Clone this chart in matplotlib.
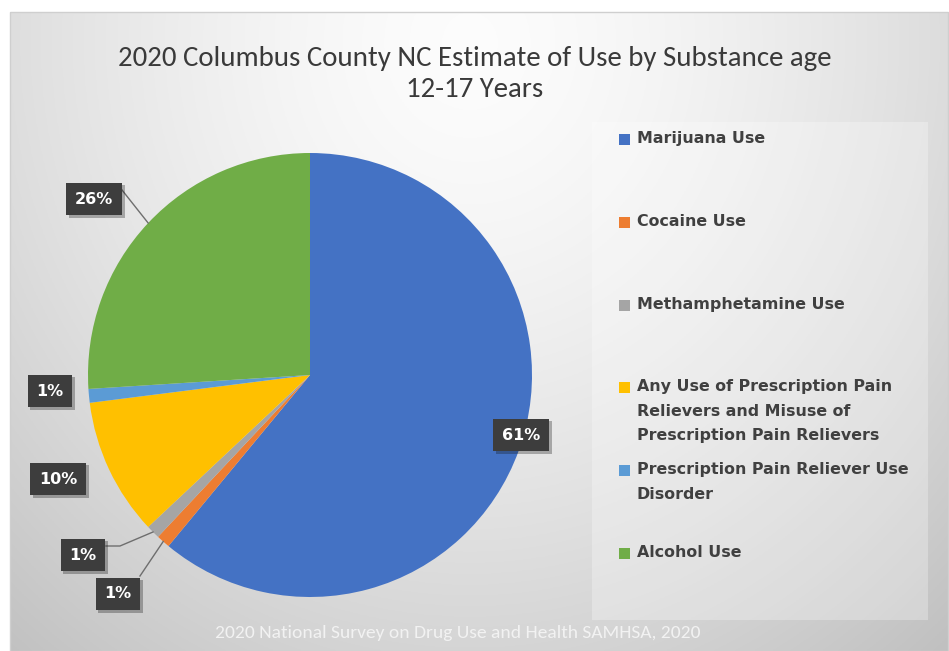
import numpy as np
import matplotlib
matplotlib.use("Agg")
import matplotlib.pyplot as plt
from matplotlib.patches import Rectangle
from matplotlib import patheffects

# ---- data ----
categories = [
    "Marijuana Use",
    "Cocaine Use",
    "Methamphetamine Use",
    "Any Use of Prescription Pain\nRelievers and Misuse of\nPrescription Pain Relievers",
    "Prescription Pain Reliever Use\nDisorder",
    "Alcohol Use",
]
shares = [61, 1, 1, 10, 1, 26]
colors = ["#4472C4", "#ED7D31", "#A5A5A5", "#FFC000", "#5B9BD5", "#70AD47"]

title = "2020 Columbus County NC Estimate of Use by Substance age\n12-17 Years"
source = "2020 National Survey on Drug Use and Health SAMHSA, 2020"

W, H = 949, 651
fig = plt.figure(figsize=(W / 100, H / 100), dpi=100)
fig.patch.set_facecolor("white")

# ---- chart area background: soft radial grey gradient ----
x0, y0 = 10, 12  # chart area top-left in pixels
bg = fig.add_axes([x0 / W, 0, (W - x0) / W, (H - y0) / H])
gx = np.linspace(0, W - x0, 400)
gy = np.linspace(0, H - y0, 300)
GX, GY = np.meshgrid(gx, gy)
d = np.sqrt(((GX - 460) / 650) ** 2 + ((GY - 30) / 720) ** 2)
shade = np.clip(0.99 - 0.2 * d ** 1.5, 0.75, 1.0)
bg.imshow(np.dstack([shade] * 3), extent=[0, 1, 0, 1], aspect="auto", origin="upper")
bg.set_axis_off()

# ---- main drawing axes in pixel units (y measured upward) ----
ax = fig.add_axes([0, 0, 1, 1])
ax.set_facecolor("none")
ax.patch.set_alpha(0)

cx, cy, r = 310, H - 375, 222
wedges, _ = ax.pie(shares, colors=colors, startangle=90, counterclock=False,
                   center=(cx, cy), radius=r,
                   wedgeprops=dict(linewidth=0))
ax.set_xlim(0, W)
ax.set_ylim(0, H)
ax.set_aspect("equal", adjustable="box")
ax.set_axis_off()

# chart border
ax.add_patch(Rectangle((x0, 0), W - x0 - 1, H - y0, fill=False,
                       edgecolor="#cfcfcf", linewidth=1))

# title
ax.text(475, H - 74, title, ha="center", va="center", fontsize=20.8,
        family=["Carlito", "DejaVu Sans"], color="#3a3a3a",
        linespacing=1.32)

# ---- legend panel ----
ax.add_patch(Rectangle((592, H - 620), 336, 498, facecolor="white",
                       alpha=0.28, edgecolor="none"))
for i, (lab, col) in enumerate(zip(categories, colors)):
    ytop = H - (131 + i * 82.8)
    ax.add_patch(Rectangle((619, ytop - 14), 11, 11, facecolor=col,
                           edgecolor="none"))
    ax.text(637, ytop, lab, ha="left", va="top", fontsize=11.4,
            fontweight="bold", color="#404040", linespacing=1.78)

# ---- data labels ----
def edge_point(w):
    ang = np.deg2rad((w.theta1 + w.theta2) / 2)
    return cx + r * np.cos(ang), cy + r * np.sin(ang)

label_pos = [(521, 435), (118, 594), (83, 555), (58, 479), (50, 391), (94, 199)]
for i, (v, (lx, ly)) in enumerate(zip(shares, label_pos)):
    t = ax.text(lx, H - ly, f"{v}%", ha="center", va="center", fontsize=11.5,
                fontweight="bold", color="white", zorder=5,
                bbox=dict(boxstyle="square,pad=0.55", facecolor="#3d3d3d",
                          edgecolor="none"))
    t.get_bbox_patch().set_path_effects([
        patheffects.SimplePatchShadow(offset=(2, -2), alpha=0.3),
        patheffects.Normal()])

# leader lines from the outside labels to their slices
ex, ey = edge_point(wedges[5])
ax.plot([122, ex], [H - 190, ey], color="#6e6e6e", lw=1, zorder=4)
ex, ey = edge_point(wedges[2])
ax.plot([106, 120, ex], [H - 546, H - 546, ey], color="#6e6e6e", lw=1, zorder=4)
ex, ey = edge_point(wedges[1])
ax.plot([140, ex], [H - 576, ey], color="#6e6e6e", lw=1, zorder=4)

# source note
ax.text(458, H - 633, source, ha="center", va="center", fontsize=14,
        family=["Carlito", "DejaVu Sans"], color="#f2f2f2")

fig.savefig("out.png", dpi=100)
